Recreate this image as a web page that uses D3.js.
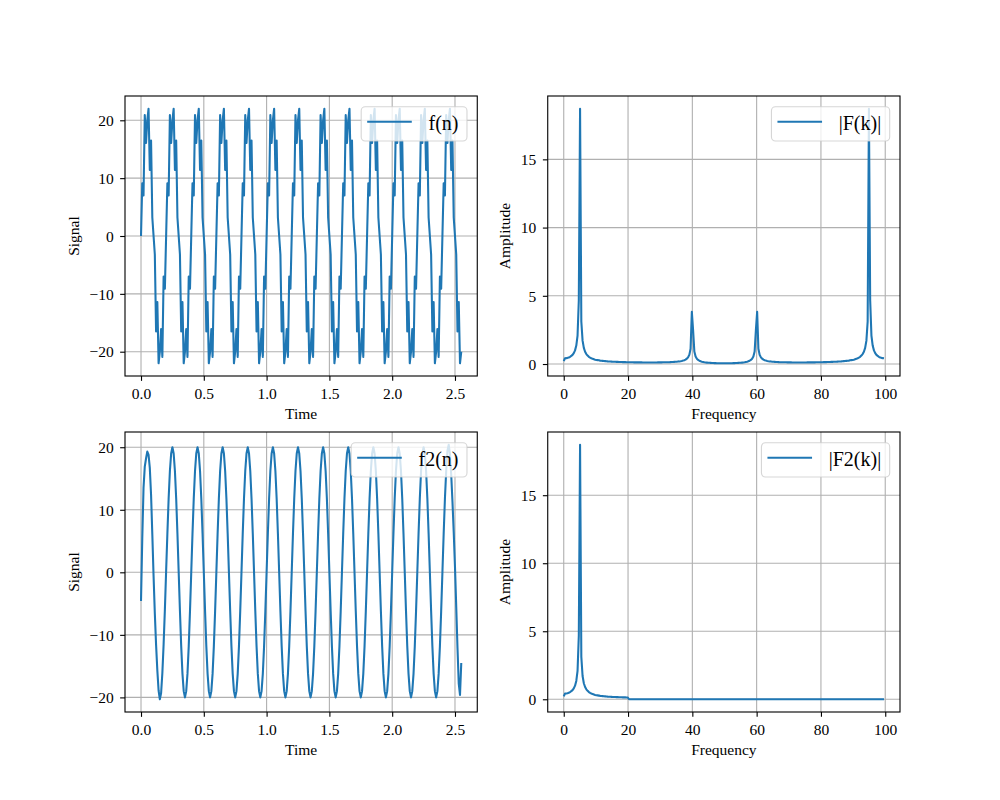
<!DOCTYPE html>
<html><head><meta charset="utf-8">
<script src="https://cdn.jsdelivr.net/npm/d3@7"></script>
<style>
body{margin:0;background:#fff}
svg{display:block}
text{font-family:"Liberation Serif","Times New Roman",serif;fill:#000}
</style>
</head><body>
<svg id="chart" width="1000" height="800"></svg>
<script>
// ---- sampling grid ----
const sampleCount = 256;
const sampleStep = 0.01;        // seconds between samples
const freqStep = 100 / 256;     // Hz between spectrum bins

// ---- series values ----
const signalF = [
0,9.1,7.0,20.9,16.1,20.0,22.0,11.4,16.5,3.2,0,-3.2,-16.5,-11.4,-22.0,-20.0,-16.1,-20.9,-7.0,-9.1,
0,9.1,7.0,20.9,16.1,20.0,22.0,11.4,16.5,3.2,0,-3.2,-16.5,-11.4,-22.0,-20.0,-16.1,-20.9,-7.0,-9.1,
0,9.1,7.0,20.9,16.1,20.0,22.0,11.4,16.5,3.2,0,-3.2,-16.5,-11.4,-22.0,-20.0,-16.1,-20.9,-7.0,-9.1,
0,9.1,7.0,20.9,16.1,20.0,22.0,11.4,16.5,3.2,0,-3.2,-16.5,-11.4,-22.0,-20.0,-16.1,-20.9,-7.0,-9.1,
0,9.1,7.0,20.9,16.1,20.0,22.0,11.4,16.5,3.2,0,-3.2,-16.5,-11.4,-22.0,-20.0,-16.1,-20.9,-7.0,-9.1,
0,9.1,7.0,20.9,16.1,20.0,22.0,11.4,16.5,3.2,0,-3.2,-16.5,-11.4,-22.0,-20.0,-16.1,-20.9,-7.0,-9.1,
0,9.1,7.0,20.9,16.1,20.0,22.0,11.4,16.5,3.2,0,-3.2,-16.5,-11.4,-22.0,-20.0,-16.1,-20.9,-7.0,-9.1,
0,9.1,7.0,20.9,16.1,20.0,22.0,11.4,16.5,3.2,0,-3.2,-16.5,-11.4,-22.0,-20.0,-16.1,-20.9,-7.0,-9.1,
0,9.1,7.0,20.9,16.1,20.0,22.0,11.4,16.5,3.2,0,-3.2,-16.5,-11.4,-22.0,-20.0,-16.1,-20.9,-7.0,-9.1,
0,9.1,7.0,20.9,16.1,20.0,22.0,11.4,16.5,3.2,0,-3.2,-16.5,-11.4,-22.0,-20.0,-16.1,-20.9,-7.0,-9.1,
0,9.1,7.0,20.9,16.1,20.0,22.0,11.4,16.5,3.2,0,-3.2,-16.5,-11.4,-22.0,-20.0,-16.1,-20.9,-7.0,-9.1,
0,9.1,7.0,20.9,16.1,20.0,22.0,11.4,16.5,3.2,0,-3.2,-16.5,-11.4,-22.0,-20.0,-16.1,-20.9,-7.0,-9.1,
0,9.1,7.0,20.9,16.1,20.0,22.0,11.4,16.5,3.2,0,-3.2,-16.5,-11.4,-22.0,-20.0
];

const signalF2 = [
-4.6,5.4,13.5,16.9,18.2,19.3,18.8,16.7,12.4,6.1,-0.6,-6.6,-11.6,-15.7,-18.9,-20.3,-19.3,-16.1,-11.5,-6.0,
0.2,6.2,11.8,16.2,19.0,20.0,19.0,16.2,11.8,6.2,0,-6.2,-11.8,-16.2,-19.0,-20.0,-19.0,-16.2,-11.8,-6.2,
0,6.2,11.8,16.2,19.0,20.0,19.0,16.2,11.8,6.2,0,-6.2,-11.8,-16.2,-19.0,-20.0,-19.0,-16.2,-11.8,-6.2,
0,6.2,11.8,16.2,19.0,20.0,19.0,16.2,11.8,6.2,0,-6.2,-11.8,-16.2,-19.0,-20.0,-19.0,-16.2,-11.8,-6.2,
0,6.2,11.8,16.2,19.0,20.0,19.0,16.2,11.8,6.2,0,-6.2,-11.8,-16.2,-19.0,-20.0,-19.0,-16.2,-11.8,-6.2,
0,6.2,11.8,16.2,19.0,20.0,19.0,16.2,11.8,6.2,0,-6.2,-11.8,-16.2,-19.0,-20.0,-19.0,-16.2,-11.8,-6.2,
0,6.2,11.8,16.2,19.0,20.0,19.0,16.2,11.8,6.2,0,-6.2,-11.8,-16.2,-19.0,-20.0,-19.0,-16.2,-11.8,-6.2,
0,6.2,11.8,16.2,19.0,20.0,19.0,16.2,11.8,6.2,0,-6.2,-11.8,-16.2,-19.0,-20.0,-19.0,-16.2,-11.8,-6.2,
0,6.2,11.8,16.2,19.0,20.0,19.0,16.2,11.8,6.2,0,-6.2,-11.8,-16.2,-19.0,-20.0,-19.0,-16.2,-11.8,-6.2,
0,6.2,11.8,16.2,19.0,20.0,19.0,16.2,11.8,6.2,0,-6.2,-11.8,-16.2,-19.0,-20.0,-19.0,-16.2,-11.8,-6.2,
0,6.2,11.8,16.2,19.0,20.0,19.0,16.2,11.8,6.2,0,-6.2,-11.8,-16.2,-19.0,-20.0,-19.0,-16.2,-11.8,-6.2,
0,6.2,11.8,16.2,19.0,20.0,19.0,16.2,11.8,6.2,0,-6.2,-11.8,-16.2,-19.0,-20.0,-19.0,-16.2,-11.8,-6.2,
0,6.2,11.8,16.2,19.4,20.4,18.9,15.6,11.3,6.4,0.9,-5.5,-12.1,-17.8,-19.6,-14.5
];

const amplitudeF = [
0.21,0.42,0.43,0.45,0.48,0.53,0.59,0.67,0.80,1.00,1.35,2.09,4.68,18.71,3.12,1.71,1.18,0.90,0.73,0.62,
0.53,0.47,0.42,0.38,0.35,0.32,0.30,0.285,0.27,0.25,0.24,0.232,0.223,0.214,0.205,0.196,0.19,0.184,0.178,0.172,
0.167,0.163,0.159,0.155,0.151,0.148,0.145,0.142,0.139,0.137,0.134,0.132,0.130,0.128,0.126,0.125,0.123,0.122,0.121,0.120,
0.119,0.118,0.118,0.117,0.117,0.116,0.116,0.115,0.115,0.115,0.115,0.116,0.116,0.117,0.117,0.118,0.119,0.120,0.122,0.124,
0.126,0.128,0.130,0.133,0.136,0.140,0.145,0.150,0.156,0.163,0.170,0.180,0.192,0.207,0.225,0.25,0.28,0.32,0.39,0.49,
0.67,1.12,3.82,2.49,0.91,0.55,0.39,0.30,0.24,0.20,0.17,0.15,0.13,0.115,0.104,0.095,0.088,0.082,0.076,0.071,
0.067,0.064,0.061,0.059,0.057,0.056,0.055,0.055,0.055,0.055,0.055,0.056,0.057,0.059,0.061,0.064,0.067,0.071,0.076,0.082,
0.088,0.095,0.104,0.115,0.13,0.15,0.17,0.20,0.24,0.30,0.39,0.55,0.91,2.49,3.82,1.12,0.67,0.49,0.39,0.32,
0.28,0.25,0.225,0.207,0.192,0.180,0.170,0.163,0.156,0.150,0.145,0.140,0.136,0.133,0.130,0.128,0.126,0.124,0.122,0.120,
0.119,0.118,0.117,0.117,0.116,0.116,0.115,0.115,0.115,0.115,0.116,0.116,0.117,0.117,0.118,0.118,0.119,0.120,0.121,0.122,
0.123,0.125,0.126,0.128,0.130,0.132,0.134,0.137,0.139,0.142,0.145,0.148,0.151,0.155,0.159,0.163,0.167,0.172,0.178,0.184,
0.19,0.196,0.205,0.214,0.223,0.232,0.24,0.25,0.27,0.285,0.30,0.32,0.35,0.38,0.42,0.47,0.53,0.62,0.73,0.90,
1.18,1.71,3.12,18.71,4.68,2.09,1.35,1.00,0.80,0.67,0.59,0.53,0.48,0.45,0.43,0.42
];

const amplitudeF2 = [
0.21,0.42,0.43,0.45,0.48,0.53,0.59,0.67,0.80,1.00,1.35,2.09,4.68,18.71,3.12,1.71,1.18,0.90,0.73,0.62,
0.53,0.47,0.42,0.38,0.35,0.32,0.30,0.285,0.27,0.25,0.24,0.232,0.223,0.214,0.205,0.196,0.19,0.184,0.178,0.172,
0.167,0.163,0.159,0.155,0.151,0.148,0.145,0.142,0.139,0.137,0.134,0.132,0,0,0,0,0,0,0,0,
0,0,0,0,0,0,0,0,0,0,0,0,0,0,0,0,0,0,0,0,
0,0,0,0,0,0,0,0,0,0,0,0,0,0,0,0,0,0,0,0,
0,0,0,0,0,0,0,0,0,0,0,0,0,0,0,0,0,0,0,0,
0,0,0,0,0,0,0,0,0,0,0,0,0,0,0,0,0,0,0,0,
0,0,0,0,0,0,0,0,0,0,0,0,0,0,0,0,0,0,0,0,
0,0,0,0,0,0,0,0,0,0,0,0,0,0,0,0,0,0,0,0,
0,0,0,0,0,0,0,0,0,0,0,0,0,0,0,0,0,0,0,0,
0,0,0,0,0,0,0,0,0,0,0,0,0,0,0,0,0,0,0,0,
0,0,0,0,0,0,0,0,0,0,0,0,0,0,0,0,0,0,0,0,
0,0,0,0,0,0,0,0,0,0,0,0,0,0,0,0
];

// ---- tick labels / texts ----
const timeTicks = [0, 0.5, 1.0, 1.5, 2.0, 2.5];
const signalTicks = [-20, -10, 0, 10, 20];
const freqTicks = [0, 20, 40, 60, 80, 100];
const ampTicks = [0, 5, 10, 15];
const legendLabels = ["f(n)", "|F(k)|", "f2(n)", "|F2(k)|"];

// ---- derived sample positions ----
const times = d3.range(sampleCount).map(i => i * sampleStep);
const freqs = d3.range(sampleCount).map(i => i * freqStep);

// ---- layout (matplotlib default subplot geometry) ----
const W = 1000, H = 800;
const L = 0.125 * W, R = 0.9 * W, T = (1 - 0.88) * H, B = (1 - 0.11) * H;
const aw = (R - L) / 2.2, ah = (B - T) / 2.2;
const gapX = 0.2 * aw, gapY = 0.2 * ah;
const LW = 1.11;        // 0.8pt
const TICK = 4.86;      // 3.5pt
const FS = 15.5;        // tick / label font px
const LEG_FS = 20;      // legend font px
const BLUE = "#1f77b4";

const svg = d3.select("#chart");
svg.append("rect").attr("width", W).attr("height", H).attr("fill", "#fff");

const panels = [
  {col:0,row:0,xs:times,ys:signalF,xt:timeTicks,yt:signalTicks,xf:d3.format(".1f"),yf:d3.format("d"),xl:"Time",yl:"Signal",lg:legendLabels[0]},
  {col:1,row:0,xs:freqs,ys:amplitudeF,xt:freqTicks,yt:ampTicks,xf:d3.format("d"),yf:d3.format("d"),xl:"Frequency",yl:"Amplitude",lg:legendLabels[1]},
  {col:0,row:1,xs:times,ys:signalF2,xt:timeTicks,yt:signalTicks,xf:d3.format(".1f"),yf:d3.format("d"),xl:"Time",yl:"Signal",lg:legendLabels[2]},
  {col:1,row:1,xs:freqs,ys:amplitudeF2,xt:freqTicks,yt:ampTicks,xf:d3.format("d"),yf:d3.format("d"),xl:"Frequency",yl:"Amplitude",lg:legendLabels[3]}
];

function padded(ext) {
  const m = (ext[1] - ext[0]) * 0.05;
  return [ext[0] - m, ext[1] + m];
}

panels.forEach((p, idx) => {
  const x0 = L + p.col * (aw + gapX);
  const y0 = T + p.row * (ah + gapY);
  const xScale = d3.scaleLinear().domain(padded(d3.extent(p.xs))).range([x0, x0 + aw]);
  const yScale = d3.scaleLinear().domain(padded(d3.extent(p.ys))).range([y0 + ah, y0]);
  const g = svg.append("g");

  // clip
  const cid = "clip" + idx;
  svg.append("clipPath").attr("id", cid).append("rect")
    .attr("x", x0).attr("y", y0).attr("width", aw).attr("height", ah);

  // grid
  const grid = g.append("g").attr("clip-path", `url(#${cid})`);
  grid.selectAll(".gx").data(p.xt).join("line")
    .attr("x1", d => xScale(d)).attr("x2", d => xScale(d))
    .attr("y1", y0).attr("y2", y0 + ah)
    .attr("stroke", "#b0b0b0").attr("stroke-width", LW);
  grid.selectAll(".gy").data(p.yt).join("line")
    .attr("y1", d => yScale(d)).attr("y2", d => yScale(d))
    .attr("x1", x0).attr("x2", x0 + aw)
    .attr("stroke", "#b0b0b0").attr("stroke-width", LW);

  // data line
  const line = d3.line().x((d, i) => xScale(p.xs[i])).y(d => yScale(d));
  g.append("path").datum(p.ys)
    .attr("clip-path", `url(#${cid})`)
    .attr("d", line)
    .attr("fill", "none").attr("stroke", BLUE)
    .attr("stroke-width", 2.08).attr("stroke-linejoin", "round");

  // spines
  g.append("rect").attr("x", x0).attr("y", y0).attr("width", aw).attr("height", ah)
    .attr("fill", "none").attr("stroke", "#000").attr("stroke-width", LW);

  // x axis
  const xa = g.append("g").attr("transform", `translate(0,${y0 + ah})`)
    .call(d3.axisBottom(xScale).tickValues(p.xt).tickFormat(p.xf).tickSize(TICK).tickPadding(7.1));
  xa.select(".domain").remove();
  xa.selectAll("line").attr("stroke", "#000").attr("stroke-width", LW);
  xa.selectAll("text").attr("font-family", null).attr("font-size", FS)
    .style("font-family", '"Liberation Serif","Times New Roman",serif').attr("fill", "#000");
  xa.attr("font-family", null).attr("font-size", null);

  // y axis
  const ya = g.append("g").attr("transform", `translate(${x0},0)`)
    .call(d3.axisLeft(yScale).tickValues(p.yt).tickFormat(p.yf).tickSize(TICK).tickPadding(6.5));
  ya.select(".domain").remove();
  ya.selectAll("line").attr("stroke", "#000").attr("stroke-width", LW);
  ya.selectAll("text").attr("font-size", FS).attr("dy", "0.34em")
    .style("font-family", '"Liberation Serif","Times New Roman",serif').attr("fill", "#000");
  ya.attr("font-family", null).attr("font-size", null);

  // axis labels
  g.append("text").attr("x", x0 + aw / 2).attr("y", y0 + ah + 42.6)
    .attr("text-anchor", "middle").attr("font-size", FS).text(p.xl);
  let minX = Infinity;
  ya.selectAll("text").each(function () {
    const bb = this.getBBox();
    minX = Math.min(minX, x0 + bb.x);
  });
  const lx = minX - 10.7;
  g.append("text").attr("transform", `translate(${lx},${y0 + ah / 2}) rotate(-90)`)
    .attr("text-anchor", "middle").attr("font-size", FS).text(p.yl);

  // legend
  const lg = g.append("g");
  const rect = lg.append("rect");
  const txt = lg.append("text").attr("font-size", LEG_FS).text(p.lg);
  const tw = txt.node().getComputedTextLength();
  const bw = 67.3 + tw + 8.5, bh = 34.3;
  const bx = x0 + aw - 10.3 - bw, by = y0 + 10.7;
  rect.attr("x", bx).attr("y", by).attr("width", bw).attr("height", bh)
    .attr("rx", 4).attr("ry", 4)
    .attr("fill", "rgba(255,255,255,0.8)")
    .attr("stroke", "rgba(204,204,204,0.8)").attr("stroke-width", LW);
  lg.append("line").attr("x1", bx + 6).attr("x2", bx + 50.6)
    .attr("y1", by + 15).attr("y2", by + 15)
    .attr("stroke", BLUE).attr("stroke-width", 2.08);
  txt.attr("x", bx + 67.3).attr("y", by + 23.6);
});
</script>
</body></html>
